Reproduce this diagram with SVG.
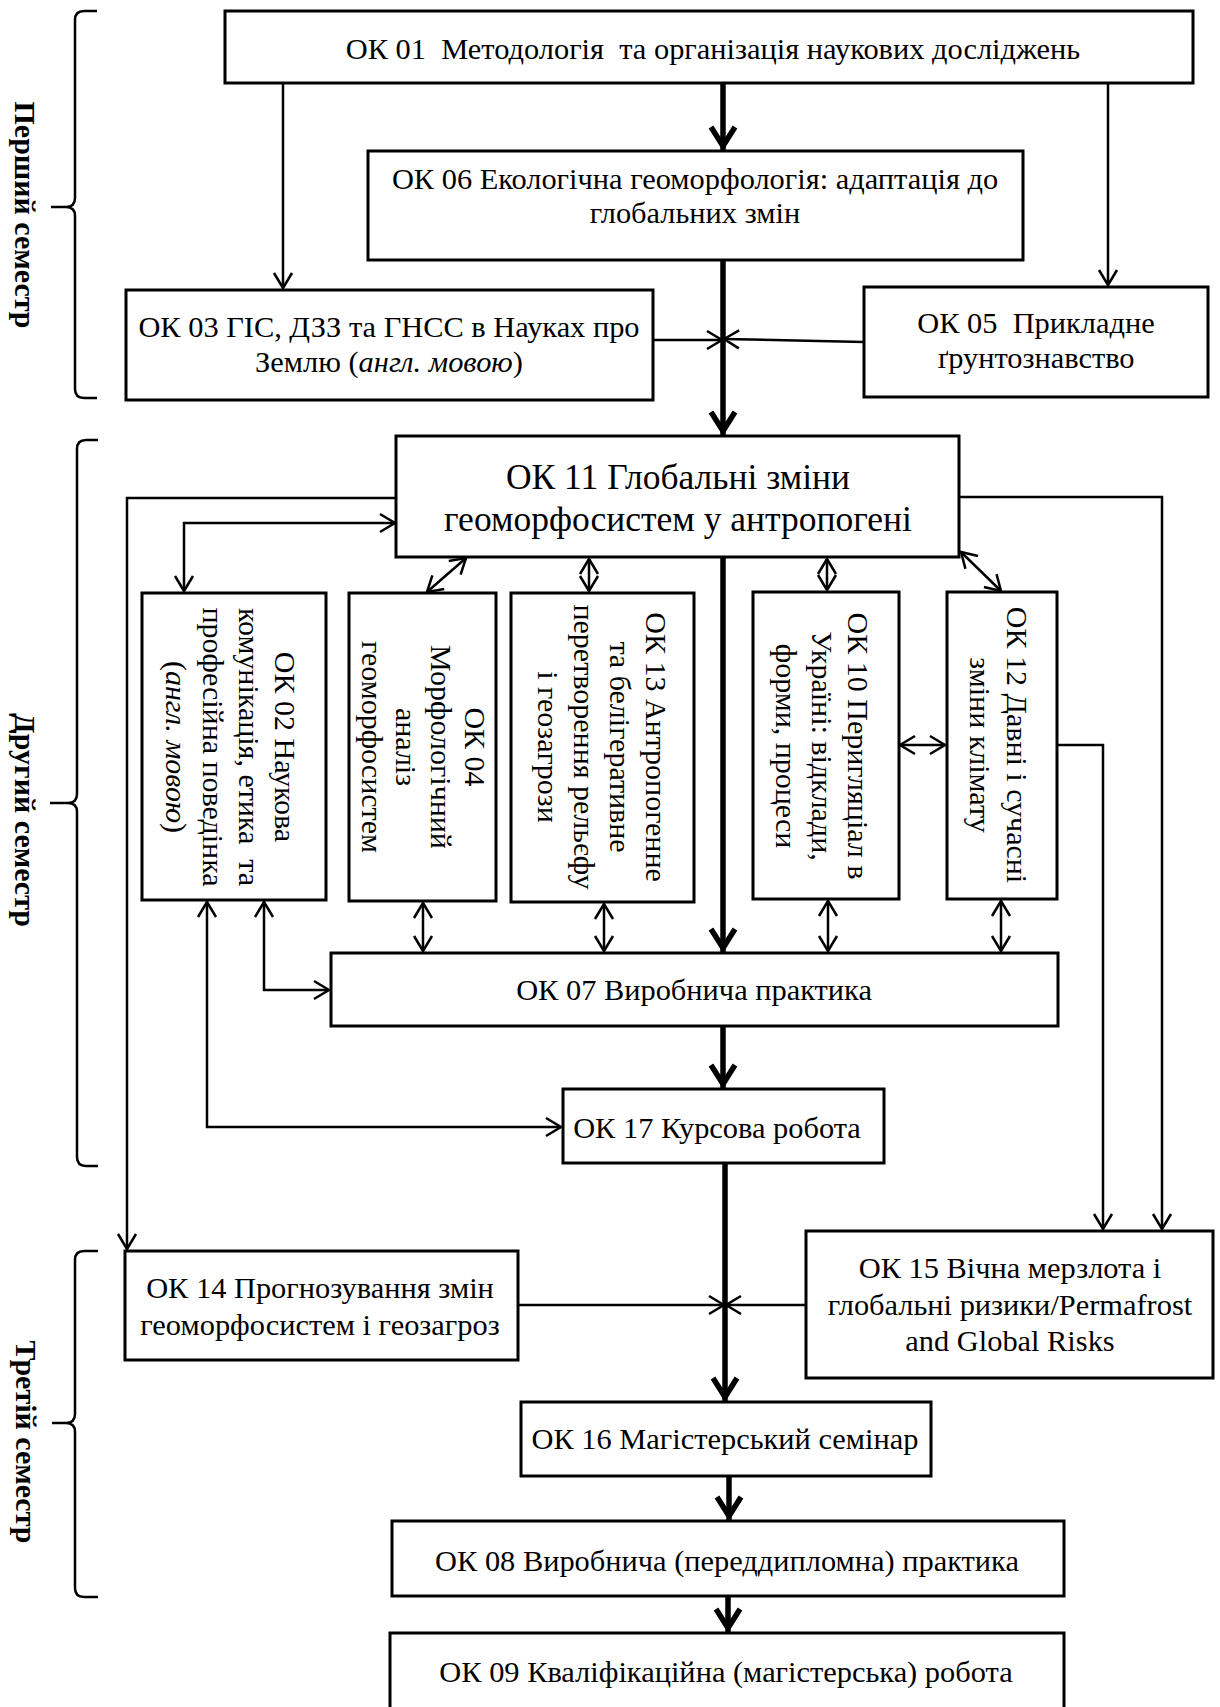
<svg xmlns="http://www.w3.org/2000/svg" width="1220" height="1707" viewBox="0 0 1220 1707">
<style>
  .box{fill:#fff;stroke:#000;stroke-width:3}
  .t{font-family:"Liberation Serif","Times New Roman",serif;font-size:30.4px;fill:#000;text-anchor:middle;white-space:pre}
  .v{font-family:"Liberation Serif","Times New Roman",serif;font-size:30px;fill:#000;text-anchor:middle;white-space:pre}
  .big{font-size:35.5px}
  .sem{font-family:"Liberation Serif","Times New Roman",serif;font-size:30px;font-weight:bold;fill:#000;text-anchor:middle}
  .c{fill:none;stroke:#000;stroke-width:2.5}
  .k{fill:none;stroke:#000;stroke-width:5.5}
  .br{fill:none;stroke:#000;stroke-width:2.5}
  .i{font-style:italic}
</style>
<defs>
  <marker id="a" markerUnits="userSpaceOnUse" markerWidth="30" markerHeight="30" viewBox="-20 -15 30 30" refX="0" refY="0" orient="auto-start-reverse" overflow="visible">
    <path d="M-15,-9 L0,0 L-15,9" fill="none" stroke="#000" stroke-width="2.5"/>
  </marker>
  <marker id="k" markerUnits="userSpaceOnUse" markerWidth="40" markerHeight="40" viewBox="-30 -20 40 40" refX="0" refY="0" orient="auto" overflow="visible">
    <path d="M-23,-12 L-4,0 L-23,12" fill="none" stroke="#000" stroke-width="5.5" stroke-linejoin="miter" stroke-miterlimit="10"/>
  </marker>
</defs>

<g id="semesters">
  <path class="br" d="M97,11 H84 Q75,11 75,20 V198 Q75,207 66,207 H51 M66,207 Q75,207 75,216 V389 Q75,398 84,398 H97"/>
  <text class="sem" transform="translate(15,215) rotate(90)">Перший семестр</text>
  <path class="br" d="M98,440 H86 Q77,440 77,449 V794 Q77,803 68,803 H50 M68,803 Q77,803 77,812 V1157 Q77,1166 86,1166 H98"/>
  <text class="sem" transform="translate(15,820) rotate(90)">Другий семестр</text>
  <path class="br" d="M98,1251 H84 Q75,1251 75,1260 V1414 Q75,1423 66,1423 H52 M66,1423 Q75,1423 75,1432 V1588 Q75,1597 84,1597 H98"/>
  <text class="sem" transform="translate(16,1442) rotate(90)">Третій семестр</text>
</g>

<g id="connectors">
  <path class="c" marker-end="url(#a)" d="M283,83 V288"/>
  <path class="c" marker-end="url(#a)" d="M1108,83 V285"/>
  <path class="c" marker-end="url(#a)" d="M653,340 H722"/>
  <path class="c" marker-end="url(#a)" d="M864,342 L724,339"/>
  <path class="c" marker-end="url(#a)" d="M396,498 H127 V1249"/>
  <path class="c" marker-end="url(#a)" d="M959,497 H1162 V1229"/>
  <path class="c" marker-start="url(#a)" marker-end="url(#a)" d="M395,523 H184 V591"/>
  <path class="c" marker-start="url(#a)" marker-end="url(#a)" d="M466,558 L427,592"/>
  <path class="c" marker-start="url(#a)" marker-end="url(#a)" d="M589,559 V591"/>
  <path class="c" marker-start="url(#a)" marker-end="url(#a)" d="M827,559 V590"/>
  <path class="c" marker-start="url(#a)" marker-end="url(#a)" d="M961,552 L1001,591"/>
  <path class="c" marker-start="url(#a)" marker-end="url(#a)" d="M900,745 H945"/>
  <path class="c" marker-end="url(#a)" d="M1057,745 H1103 V1229"/>
  <path class="c" marker-start="url(#a)" marker-end="url(#a)" d="M264,902 V990 H329"/>
  <path class="c" marker-start="url(#a)" marker-end="url(#a)" d="M207,902 V1127 H561"/>
  <path class="c" marker-start="url(#a)" marker-end="url(#a)" d="M423,903 V951"/>
  <path class="c" marker-start="url(#a)" marker-end="url(#a)" d="M604,904 V951"/>
  <path class="c" marker-start="url(#a)" marker-end="url(#a)" d="M828,901 V951"/>
  <path class="c" marker-start="url(#a)" marker-end="url(#a)" d="M1001,901 V951"/>
  <path class="c" marker-end="url(#a)" d="M518,1305 H724"/>
  <path class="c" marker-end="url(#a)" d="M806,1305 H726"/>
  <path class="k" marker-end="url(#k)" d="M723,83 V150"/>
  <path class="k" marker-end="url(#k)" d="M723,260 V435"/>
  <path class="k" marker-end="url(#k)" d="M723,557 V952"/>
  <path class="k" marker-end="url(#k)" d="M723,1026 V1088"/>
  <path class="k" marker-end="url(#k)" d="M725,1163 V1401"/>
  <path class="k" marker-end="url(#k)" d="M729,1476 V1520"/>
  <path class="k" marker-end="url(#k)" d="M728,1596 V1632"/>
</g>

<g id="ok01">
  <rect class="box" x="225" y="11" width="968" height="72"/>
  <text class="t" x="713" y="59">ОК 01  Методологія  та організація наукових досліджень</text>
</g>
<g id="ok06">
  <rect class="box" x="368" y="151" width="655" height="109"/>
  <text class="t" x="695" y="189">ОК 06 Екологічна геоморфологія: адаптація до</text>
  <text class="t" x="695" y="223">глобальних змін</text>
</g>
<g id="ok03">
  <rect class="box" x="126" y="290" width="527" height="110"/>
  <text class="t" x="389" y="337">ОК 03 ГІС, ДЗЗ та ГНСС в Науках про</text>
  <text class="t" x="389" y="372">Землю (<tspan class="i">англ. мовою</tspan>)</text>
</g>
<g id="ok05">
  <rect class="box" x="864" y="287" width="344" height="110"/>
  <text class="t" x="1036" y="333">ОК 05  Прикладне</text>
  <text class="t" x="1036" y="368">ґрунтознавство</text>
</g>
<g id="ok11">
  <rect class="box" x="396" y="436" width="563" height="121"/>
  <text class="t big" x="678" y="489">ОК 11 Глобальні зміни</text>
  <text class="t big" x="678" y="531">геоморфосистем у антропогені</text>
</g>
<g id="ok02">
  <rect class="box" x="142" y="593" width="184" height="307"/>
  <text class="v" transform="translate(275,747) rotate(90)"><tspan x="0" y="0">ОК 02 Наукова</tspan><tspan x="0" y="36">комунікація, етика  та</tspan><tspan x="0" y="72">професійна поведінка</tspan><tspan x="0" y="109">(<tspan class="i">англ. мовою</tspan>)</tspan></text>
</g>
<g id="ok04">
  <rect class="box" x="349" y="593" width="147" height="308"/>
  <text class="v" transform="translate(465,747) rotate(90)"><tspan x="0" y="0">ОК 04</tspan><tspan x="0" y="34">Морфологічний</tspan><tspan x="0" y="69">аналіз</tspan><tspan x="0" y="103">геоморфосистем</tspan></text>
</g>
<g id="ok13">
  <rect class="box" x="511" y="593" width="183" height="309"/>
  <text class="v" transform="translate(646,747) rotate(90)"><tspan x="0" y="0">ОК 13 Антропогенне</tspan><tspan x="0" y="36">та белігеративне</tspan><tspan x="0" y="72">перетворення рельєфу</tspan><tspan x="0" y="108">і геозагрози</tspan></text>
</g>
<g id="ok10">
  <rect class="box" x="753" y="592" width="146" height="307"/>
  <text class="v" transform="translate(848,746) rotate(90)"><tspan x="0" y="0">ОК 10 Перигляціал в</tspan><tspan x="0" y="36">Україні: відклади,</tspan><tspan x="0" y="72">форми, процеси</tspan></text>
</g>
<g id="ok12">
  <rect class="box" x="947" y="592" width="110" height="307"/>
  <text class="v" transform="translate(1007,745) rotate(90)"><tspan x="0" y="0">ОК 12 Давні і сучасні</tspan><tspan x="0" y="37">зміни клімату</tspan></text>
</g>
<g id="ok07">
  <rect class="box" x="331" y="953" width="727" height="73"/>
  <text class="t" x="694" y="1000">ОК 07 Виробнича практика</text>
</g>
<g id="ok17">
  <rect class="box" x="563" y="1089" width="321" height="74"/>
  <text class="t" x="717" y="1138">ОК 17 Курсова робота</text>
</g>
<g id="ok14">
  <rect class="box" x="125" y="1251" width="393" height="109"/>
  <text class="t" x="320" y="1298">ОК 14 Прогнозування змін</text>
  <text class="t" x="320" y="1335">геоморфосистем і геозагроз</text>
</g>
<g id="ok15">
  <rect class="box" x="806" y="1231" width="407" height="147"/>
  <text class="t" x="1010" y="1278">ОК 15 Вічна мерзлота і</text>
  <text class="t" x="1010" y="1315">глобальні ризики/Permafrost</text>
  <text class="t" x="1010" y="1351">and Global Risks</text>
</g>
<g id="ok16">
  <rect class="box" x="521" y="1402" width="410" height="74"/>
  <text class="t" x="725" y="1449">ОК 16 Магістерський семінар</text>
</g>
<g id="ok08">
  <rect class="box" x="392" y="1521" width="672" height="75"/>
  <text class="t" x="727" y="1571">ОК 08 Виробнича (переддипломна) практика</text>
</g>
<g id="ok09">
  <rect class="box" x="390" y="1633" width="674" height="80"/>
  <text class="t" x="726" y="1682">ОК 09 Кваліфікаційна (магістерська) робота</text>
</g>
</svg>
